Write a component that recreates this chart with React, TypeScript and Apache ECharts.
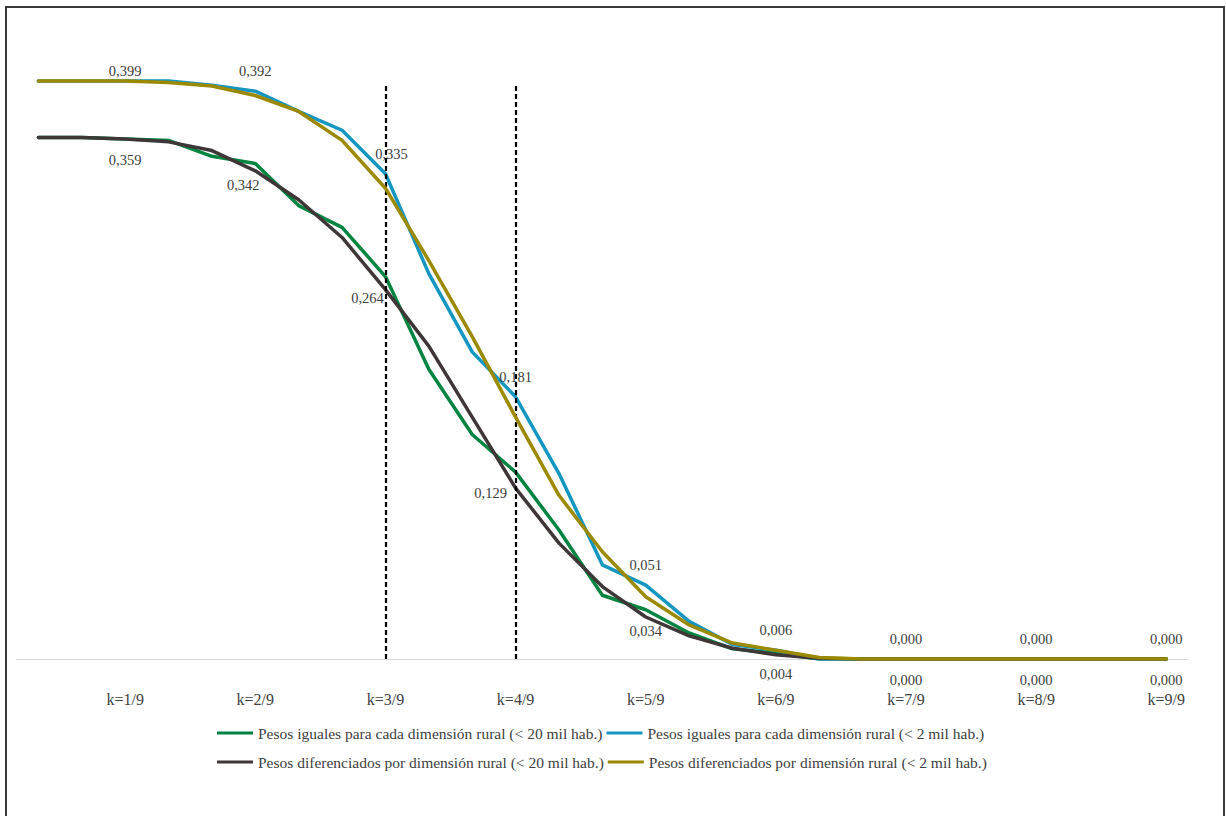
import React, { useEffect, useRef } from "react";
import * as echarts from "echarts";

// x positions: 27 steps, k = 1/27 ... 27/27; ticks shown at k = 1/9 ... 9/9
const categories = Array.from({ length: 27 }, (_, i) => `${i + 1}/27`);
const tickLabels = ["k=1/9", "k=2/9", "k=3/9", "k=4/9", "k=5/9", "k=6/9", "k=7/9", "k=8/9", "k=9/9"];

const nameGreen = "Pesos iguales para cada dimensión rural (< 20 mil hab.)";
const nameBlue = "Pesos iguales para cada dimensión rural (< 2 mil hab.)";
const nameDark = "Pesos diferenciados por dimensión rural (< 20 mil hab.)";
const nameGold = "Pesos diferenciados por dimensión rural (< 2 mil hab.)";

const greenValues = [0.36, 0.36, 0.359, 0.358, 0.347, 0.342, 0.313, 0.298, 0.264, 0.2, 0.155, 0.129, 0.089, 0.044, 0.034, 0.018, 0.007, 0.004, 0.0, 0, 0, 0, 0, 0, 0, 0, 0];
const blueValues = [0.399, 0.399, 0.399, 0.399, 0.396, 0.392, 0.378, 0.365, 0.335, 0.266, 0.212, 0.181, 0.128, 0.065, 0.051, 0.026, 0.01, 0.006, 0.0, 0, 0, 0, 0, 0, 0, 0, 0];
const darkValues = [0.36, 0.36, 0.359, 0.357, 0.351, 0.337, 0.317, 0.291, 0.255, 0.216, 0.167, 0.118, 0.08, 0.05, 0.029, 0.016, 0.0074, 0.003, 0.0005, 0, 0, 0, 0, 0, 0, 0, 0];
const goldValues = [0.399, 0.399, 0.399, 0.398, 0.3955, 0.389, 0.378, 0.358, 0.325, 0.275, 0.2225, 0.167, 0.113, 0.074, 0.043, 0.0235, 0.011, 0.006, 0.001, 0, 0, 0, 0, 0, 0, 0, 0];

// reference lines (dashed) at k=3/9 and k=4/9
const refLineIndices = [8, 11];
const refLineTop = 0.3976;

const colors = { green: "#00843F", blue: "#1496C0", dark: "#3E3637", gold: "#9B8A00" };
const FONT = "'Liberation Serif', 'DejaVu Serif', serif";
const TEXT = "#404040";

const blueLabelOffsets: Record<number, [number, number]> = { 2: [0, 10], 8: [6, 0] };
const greenLabelOffsets: Record<number, [number, number]> = { 5: [-12, 0], 8: [-18, 0], 11: [-25, 0] };

const fmt = (v: number) => v.toFixed(3).replace(".", ",");

function buildData(values: number[], labelled: boolean, offsets: Record<number, [number, number]>) {
  return values.map((v, i) => {
    const show = labelled && i % 3 === 2;
    const item: any = { value: v, label: { show } };
    if (show && offsets[i]) item.label.offset = offsets[i];
    return item;
  });
}

export default function App() {
  const ref = useRef<HTMLDivElement>(null);
  useEffect(() => {
    if (!ref.current) return;
    const chart = echarts.init(ref.current, undefined, { renderer: "svg" });
    const lineBase = (color: string) => ({
      type: "line" as const,
      symbol: "circle",
      symbolSize: 1,
      showSymbol: true,
      showAllSymbol: true,
      lineStyle: { color, width: 3.5, cap: "round" as const, join: "round" as const },
      itemStyle: { color },
      emphasis: { disabled: true },
    });
    const legendCommon = {
      left: 217,
      orient: "horizontal",
      icon: "rect",
      itemWidth: 36,
      itemHeight: 3,
      itemGap: 4,
      padding: 0,
      textStyle: { color: TEXT, fontFamily: FONT, fontSize: 15.5 },
    };
    chart.setOption({
      animation: false,
      backgroundColor: "#ffffff",
      grid: { left: 16.7, right: 38, top: 659 - 0.45 * 1448.6, bottom: 157, containLabel: false },
      xAxis: {
        type: "category",
        data: categories,
        boundaryGap: true,
        axisLine: { show: true, lineStyle: { color: "#d9d9d9", width: 1 } },
        axisTick: { show: false },
        axisLabel: {
          interval: (idx: number) => idx % 3 === 2,
          formatter: (_v: string, idx: number) => (idx % 3 === 2 ? tickLabels[(idx - 2) / 3] : ""),
          margin: 32,
          color: TEXT,
          fontFamily: FONT,
          fontSize: 16,
        },
        splitLine: { show: false },
      },
      yAxis: {
        type: "value",
        min: 0,
        max: 0.45,
        show: false,
        splitLine: { show: false },
      },
      legend: [
        { ...legendCommon, data: [nameGreen, nameBlue], top: 725 },
        { ...legendCommon, data: [nameDark, nameGold], top: 754 },
      ],
      graphic: [
        {
          type: "rect",
          shape: { x: 6, y: 7, width: 1218, height: 830 },
          style: { fill: "none", stroke: "#3a3a3a", lineWidth: 2 },
          silent: true,
          z: 100,
        },
      ],
      series: [
        {
          ...lineBase(colors.green),
          name: nameGreen,
          data: buildData(greenValues, true, greenLabelOffsets),
          z: 2,
          label: {
            position: "bottom",
            distance: 13,
            formatter: (p: any) => fmt(p.value),
            color: TEXT,
            fontFamily: FONT,
            fontSize: 14.5,
          },
          markLine: {
            silent: true,
            symbol: "none",
            label: { show: false },
            lineStyle: { color: "#000000", width: 2.2, type: [5, 3] },
            data: refLineIndices.map((ix) => [
              { coord: [ix, 0] },
              { coord: [ix, refLineTop] },
            ]),
          },
        },
        {
          ...lineBase(colors.blue),
          name: nameBlue,
          data: buildData(blueValues, true, blueLabelOffsets),
          z: 3,
          label: {
            position: "top",
            distance: 12,
            formatter: (p: any) => fmt(p.value),
            color: TEXT,
            fontFamily: FONT,
            fontSize: 14.5,
          },
        },
        {
          ...lineBase(colors.dark),
          name: nameDark,
          data: buildData(darkValues, false, {}),
          z: 4,
        },
        {
          ...lineBase(colors.gold),
          name: nameGold,
          data: buildData(goldValues, false, {}),
          z: 5,
        },
      ],
    });
    return () => chart.dispose();
  }, []);
  return (
    <div
      ref={ref}
      style={{ position: "fixed", left: 0, top: 0, width: 1226, height: 816, background: "#fff" }}
    />
  );
}
